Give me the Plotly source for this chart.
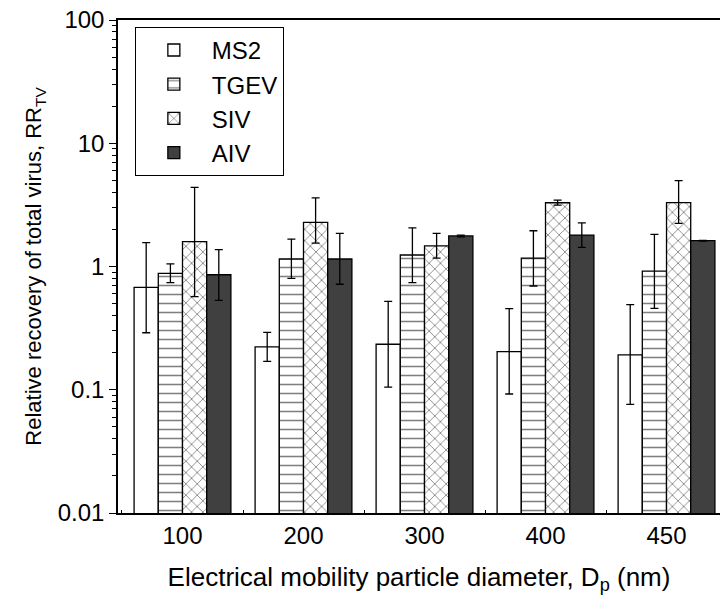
import plotly.graph_objects as go

categories = ["100", "200", "300", "400", "450"]

ms2 = [0.678, 0.223, 0.234, 0.204, 0.192]
ms2_hi = [1.56, 0.292, 0.522, 0.455, 0.490]
ms2_lo = [0.290, 0.170, 0.105, 0.0924, 0.0762]

tgev = [0.88, 1.15, 1.24, 1.17, 0.918]
tgev_hi = [1.05, 1.67, 2.06, 1.95, 1.82]
tgev_lo = [0.739, 0.802, 0.739, 0.695, 0.458]

siv = [1.59, 2.28, 1.47, 3.29, 3.30]
siv_hi = [4.39, 3.6, 1.86, 3.46, 4.97]
siv_lo = [0.569, 1.55, 1.17, 3.15, 2.24]

aiv = [0.857, 1.15, 1.77, 1.80, 1.62]
aiv_hi = [1.37, 1.86, 1.80, 2.26, 1.63]
aiv_lo = [0.532, 0.718, 1.74, 1.43, 1.61]

y_tickvals = [0.01, 0.1, 1, 10, 100]
y_ticktext = ["0.01", "0.1", "1", "10", "100"]
y_minor_vals = [m * 10.0 ** e for e in range(-2, 2) for m in range(2, 10)]

FONT = "Liberation Sans, Arial, sans-serif"

def err(vals, hi, lo):
    return dict(type="data", symmetric=False,
                array=[h - v for v, h in zip(vals, hi)],
                arrayminus=[v - l for v, l in zip(vals, lo)],
                color="black", thickness=1.3, width=4)

series = [
    ("MS2", ms2, ms2_hi, ms2_lo, dict(color="white")),
    ("TGEV", tgev, tgev_hi, tgev_lo,
     dict(color="white", pattern=dict(shape="-", fgcolor="black", bgcolor="white",
                                      size=9, solidity=0.17))),
    ("SIV", siv, siv_hi, siv_lo,
     dict(color="white", pattern=dict(shape="x", fgcolor="black", bgcolor="white",
                                      size=8, solidity=0.2))),
    ("AIV", aiv, aiv_hi, aiv_lo, dict(color="#404040")),
]

fig = go.Figure()
for name, vals, hi, lo, mk in series:
    mk = dict(mk)
    mk["line"] = dict(color="black", width=1.3)
    fig.add_trace(go.Bar(name=name, x=categories, y=vals, marker=mk,
                         error_y=err(vals, hi, lo)))

fig.update_layout(
    width=720, height=603,
    margin=dict(l=118, r=0, t=20, b=90),
    paper_bgcolor="white", plot_bgcolor="white",
    barmode="group", bargap=0.2, bargroupgap=0,
    font=dict(family=FONT, color="black", size=22),
    showlegend=True,
    legend=dict(x=0.028, y=0.986, xanchor="left", yanchor="top",
                bordercolor="black", borderwidth=1, bgcolor="white",
                font=dict(size=24, family=FONT), traceorder="normal",
                itemwidth=66),
    xaxis=dict(type="category", range=[-0.533, 4.442],
               showline=True, linecolor="black", linewidth=1.5, mirror=True,
               ticks="inside", ticklen=3, tickson="boundaries", tickcolor="black",
               tickfont=dict(size=24), showgrid=False, zeroline=False,
               title=dict(text="Electrical mobility particle diameter, D<sub>p</sub> (nm)",
                          font=dict(size=26), standoff=20)),
    yaxis=dict(type="log", range=[-2, 2],
               tickvals=y_tickvals, ticktext=y_ticktext,
               showline=True, linecolor="black", linewidth=1.5,
               ticks="outside", ticklen=7, tickcolor="black",
               minor=dict(tickvals=y_minor_vals, ticks="outside", ticklen=4,
                          tickcolor="black", showgrid=False),
               tickfont=dict(size=24), showgrid=False, zeroline=False,
               title=dict(text="Relative recovery of total virus, RR<sub>TV</sub>",
                          font=dict(size=22), standoff=10)),
)

fig.write_html("out.html")
